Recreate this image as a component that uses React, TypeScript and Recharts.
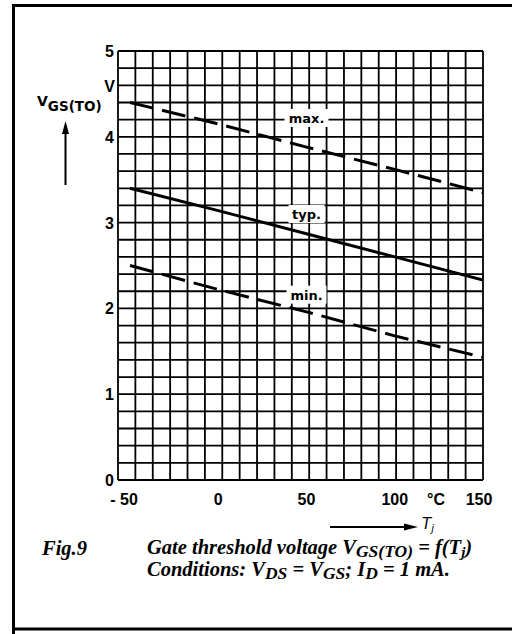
import { LineChart, Line, XAxis, YAxis, CartesianGrid, ReferenceDot } from 'recharts';

// junction temperature, °C
const temps = [-50, 0, 50, 100, 150];
// gate threshold voltage V_GS(TO), V
const vMax = [4.4, 4.15, 3.88, 3.62, 3.35];
const vTyp = [3.4, 3.14, 2.87, 2.6, 2.33];
const vMin = [2.5, 2.22, 1.96, 1.68, 1.43];

const xTicks = [-50, 0, 50, 100, 150];
const yTicks = [0, 1, 2, 3, 4, 5];
// graph paper: 21 columns, 25 rows
const GRID_COLS = 21;
const GRID_ROWS = 25;

const data = temps.map((t, i) => ({ t, max: vMax[i], typ: vTyp[i], min: vMin[i] }));

const sans = "'Liberation Sans', Arial, sans-serif";
const serif = "'Liberation Serif', 'DejaVu Serif', serif";

const tickFont = { fontFamily: sans, fontWeight: 700, fontSize: 16, fill: '#000' };

const YTick = ({ x, y, payload }: any) => (
  <text x={x} y={y} dy={6} textAnchor="end" style={tickFont}>
    {payload.value}
  </text>
);

const XTick = ({ x, y, payload }: any) => {
  const v = payload.value;
  const label = v < 0 ? `- ${Math.abs(v)}` : String(v);
  return (
    <g>
      <text x={x} dx={v < 0 ? -6 : v === 150 ? -4 : 0} y={y} dy={25} textAnchor="middle" style={tickFont}>
        {label}
      </text>
      {v === 150 && (
        <text x={x - 47} y={y} dy={25} textAnchor="middle" style={tickFont}>
          °C
        </text>
      )}
    </g>
  );
};

// curve name tag with white box over the grid
const tag = (text: string, w: number) => (props: any) => (
  <g>
    <rect x={props.cx - w / 2} y={props.cy - 9} width={w} height={18} fill="#fff" />
    <text
      x={props.cx}
      y={props.cy}
      dy={5}
      textAnchor="middle"
      style={{ fontFamily: "'DejaVu Sans', sans-serif", fontWeight: 700, fontSize: 13, fill: '#000' }}
    >
      {text}
    </text>
  </g>
);

const vLines = ({ offset }: any) =>
  Array.from({ length: GRID_COLS + 1 }, (_, i) => offset.left + (i * offset.width) / GRID_COLS);
const hLines = ({ offset }: any) =>
  Array.from({ length: GRID_ROWS + 1 }, (_, i) => offset.top + (i * offset.height) / GRID_ROWS);

function App() {
  return (
    <div style={{ position: 'absolute', left: 0, top: 0, width: 512, height: 634, background: '#fff' }}>
      <LineChart
        width={512}
        height={634}
        data={data}
        margin={{ top: 51, right: 29, bottom: 114, left: 78 }}
      >
        <CartesianGrid
          stroke="#000"
          strokeWidth={1.8}
          verticalCoordinatesGenerator={vLines}
          horizontalCoordinatesGenerator={hLines}
        />
        <XAxis
          dataKey="t"
          type="number"
          domain={[-56.8, 150]}
          ticks={xTicks}
          allowDataOverflow
          axisLine={false}
          tickLine={false}
          tickSize={0}
          tickMargin={0}
          height={40}
          tick={<XTick />}
        />
        <YAxis
          type="number"
          domain={[0, 5]}
          ticks={yTicks}
          axisLine={false}
          tickLine={false}
          tickSize={0}
          tickMargin={4}
          width={40}
          tick={<YTick />}
        />
        <Line
          dataKey="max"
          stroke="#000"
          strokeWidth={3}
          strokeDasharray="24 9"
          dot={false}
          isAnimationActive={false}
        />
        <Line dataKey="typ" stroke="#000" strokeWidth={3} dot={false} isAnimationActive={false} />
        <Line
          dataKey="min"
          stroke="#000"
          strokeWidth={3}
          strokeDasharray="24 9"
          dot={false}
          isAnimationActive={false}
        />
        <ReferenceDot x={50} y={4.22} shape={tag('max.', 44)} />
        <ReferenceDot x={50} y={3.1} shape={tag('typ.', 36)} />
        <ReferenceDot x={50} y={2.16} shape={tag('min.', 40)} />
      </LineChart>

      <svg
        width={512}
        height={634}
        style={{ position: 'absolute', left: 0, top: 0, pointerEvents: 'none' }}
      >
        {/* frame */}
        <path d="M 13.5 634 L 13.5 5.5 L 512 5.5" fill="none" stroke="#000" strokeWidth={3} />
        <line x1={12} y1={629} x2={512} y2={629} stroke="#000" strokeWidth={3} />

        {/* y axis title with arrow */}
        <text x={37} y={106} style={{ fontFamily: "'DejaVu Sans', sans-serif", fontWeight: 700, fontSize: 14 }}>
          V
          <tspan dy={5} fontSize={13.5}>GS(TO)</tspan>
        </text>
        <line x1={65.5} y1={185} x2={65.5} y2={132} stroke="#000" strokeWidth={2} />
        <path d="M 65.5 121 L 69 134 L 62 134 Z" fill="#000" />
        <text x={115} y={92} textAnchor="end" style={tickFont}>V</text>

        {/* x axis title with arrow */}
        <line x1={330} y1={527} x2={406} y2={527} stroke="#000" strokeWidth={2} />
        <path d="M 418 527 L 404 523.5 L 404 530.5 Z" fill="#000" />
        <text
          x={422}
          y={529}
          style={{ fontFamily: "'DejaVu Sans', sans-serif", fontStyle: 'italic', fontSize: 15 }}
        >
          T<tspan dy={3} fontSize={10}>j</tspan>
        </text>

        {/* caption */}
        <g style={{ fontFamily: serif, fontWeight: 700, fontStyle: 'italic', fontSize: 20.5 }}>
          <text x={42} y={555}>Fig.9</text>
          <text x={147} y={554}>
            Gate threshold voltage V<tspan dy={3} fontSize={17.5}>GS(TO)</tspan>
            <tspan dy={-3}> = f(T</tspan>
            <tspan dy={3} fontSize={15}>j</tspan>
            <tspan dy={-3}>)</tspan>
          </text>
          <text x={147} y={576}>
            Conditions: V<tspan dy={3} fontSize={17.5}>DS</tspan>
            <tspan dy={-3}> = V</tspan>
            <tspan dy={3} fontSize={17.5}>GS</tspan>
            <tspan dy={-3}>; I</tspan>
            <tspan dy={3} fontSize={17.5}>D</tspan>
            <tspan dy={-3}> = 1 mA.</tspan>
          </text>
        </g>
      </svg>
    </div>
  );
}

export default App;
